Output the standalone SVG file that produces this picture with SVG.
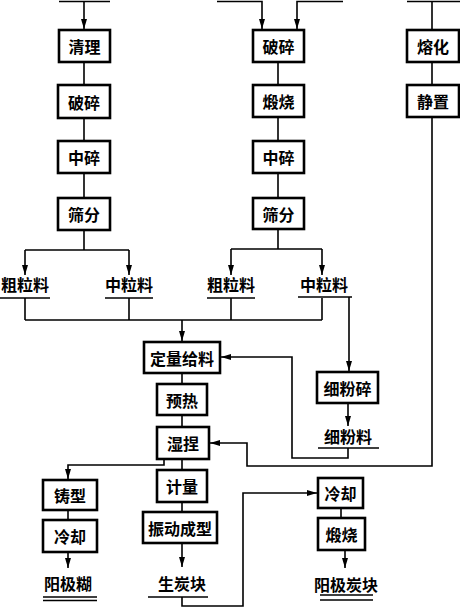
<svg xmlns="http://www.w3.org/2000/svg" width="460" height="608" viewBox="0 0 460 608">
<style>
.box{fill:#fff;stroke:#000;stroke-width:2.6}
.ln{fill:none;stroke:#000;stroke-width:1.6}
.ar{fill:none;stroke:#000;stroke-width:1.6;marker-end:url(#ah)}
text{font-family:"Noto Sans CJK SC","Noto Sans CJK JP",sans-serif;font-size:16px;font-weight:bold;fill:#000;text-anchor:middle;dominant-baseline:central}
</style>
<defs>
<marker id="ah" viewBox="0 0 10 6" refX="10" refY="3" markerWidth="10" markerHeight="6" markerUnits="userSpaceOnUse" orient="auto">
<path d="M0,0 L10,3 L0,6 z" fill="#000"/>
</marker>
</defs>
<rect width="460" height="608" fill="#fff"/>
<g id="connectors">
<path class="ln" d="M59,1.5 H110"/>
<path class="ar" d="M84,1.5 V29"/>
<path class="ln" d="M84,62 V85 M84,118 V141 M84,173 V198 M84,230 V250 M25,250 H129"/>
<path class="ar" d="M25,250 V275"/>
<path class="ar" d="M129,250 V275"/>
<path class="ar" d="M217,1.5 H262 V29"/>
<path class="ar" d="M343,1.5 H297 V29"/>
<path class="ln" d="M278,62 V85 M278,117 V141 M278,173 V198 M278,229 V249 M231,249 H322"/>
<path class="ar" d="M231,249 V275"/>
<path class="ar" d="M322,249 V275"/>
<path class="ln" d="M25,298 V320 M129,298 V320 M231,298 V320 M322,298 V320 M25,320 H322"/>
<path class="ar" d="M182,320 V341"/>
<path class="ln" d="M407,1.5 H460 M432,1.5 V30 M432,62 V85"/>
<path class="ar" d="M432,117 V466 H247 V443 H210"/>
<path class="ar" d="M349,297 V371"/>
<path class="ar" d="M348,403 V426"/>
<path class="ar" d="M348,448 V458 H292 V357 H221"/>
<path class="ln" d="M182,373 V384 M182,415 V427 M182,459 V470 M182,502 V512"/>
<path class="ar" d="M182,543 V567"/>
<path class="ar" d="M164,459 V465 H68 V479"/>
<path class="ln" d="M68,510 V520"/>
<path class="ar" d="M68,552 V568"/>
<path class="ar" d="M182,597 V606 H243 V493 H317"/>
<path class="ln" d="M341,508 V518"/>
<path class="ar" d="M345,550 V568"/>
<path class="ln" d="M0,298 H50 M105,298 H153 M207,298 H255 M298,297 H352 M318,448 H379 M148,597 H208 M43,597 H97 M43,600.5 H97 M320,595 H373 M320,600 H373"/>
</g>
<g id="n-qingli"><rect class="box" x="59" y="30" width="51" height="32"/><text x="84.5" y="46">清理</text></g>
<g id="n-posui1"><rect class="box" x="58" y="85" width="52" height="33"/><text x="84" y="101.5">破碎</text></g>
<g id="n-zhongsui1"><rect class="box" x="58" y="141" width="52" height="32"/><text x="84" y="157">中碎</text></g>
<g id="n-shaifen1"><rect class="box" x="58" y="198" width="52" height="32"/><text x="84" y="214">筛分</text></g>
<g id="n-posui2"><rect class="box" x="253" y="30" width="51" height="32"/><text x="278.5" y="46">破碎</text></g>
<g id="n-duanshao1"><rect class="box" x="253" y="85" width="51" height="32"/><text x="278.5" y="101">煅烧</text></g>
<g id="n-zhongsui2"><rect class="box" x="253" y="141" width="51" height="32"/><text x="278.5" y="157">中碎</text></g>
<g id="n-shaifen2"><rect class="box" x="253" y="198" width="51" height="31"/><text x="278.5" y="213.5">筛分</text></g>
<g id="n-ronghua"><rect class="box" x="407" y="30" width="52" height="32"/><text x="433" y="46">熔化</text></g>
<g id="n-jingzhi"><rect class="box" x="407" y="85" width="52" height="32"/><text x="433" y="101">静置</text></g>
<g id="t-culiliao1"><text x="25" y="284">粗粒料</text></g>
<g id="t-zhongliliao1"><text x="129" y="284">中粒料</text></g>
<g id="t-culiliao2"><text x="231" y="284">粗粒料</text></g>
<g id="t-zhongliliao2"><text x="324" y="284">中粒料</text></g>
<g id="n-dingliang"><rect class="box" x="144" y="342" width="76" height="31"/><text x="182" y="357.5">定量给料</text></g>
<g id="n-yure"><rect class="box" x="157" y="384" width="50" height="31"/><text x="182" y="399.5">预热</text></g>
<g id="n-shinie"><rect class="box" x="157" y="427" width="52" height="32"/><text x="183" y="443">湿捏</text></g>
<g id="n-xifensui"><rect class="box" x="317" y="372" width="61" height="31"/><text x="347.5" y="387.5">细粉碎</text></g>
<g id="t-xifenliao"><text x="348" y="436">细粉料</text></g>
<g id="n-jiliang"><rect class="box" x="157" y="470" width="50" height="32"/><text x="182" y="486">计量</text></g>
<g id="n-zhendong"><rect class="box" x="143" y="512" width="74" height="31"/><text x="180" y="527.5">振动成型</text></g>
<g id="n-zhuxing"><rect class="box" x="43" y="480" width="54" height="30"/><text x="70" y="495">铸型</text></g>
<g id="n-lengque1"><rect class="box" x="43" y="520" width="54" height="32"/><text x="70" y="536">冷却</text></g>
<g id="t-yangjihu"><text x="68" y="583">阳极糊</text></g>
<g id="t-shengtankuai"><text x="182" y="583">生炭块</text></g>
<g id="n-lengque2"><rect class="box" x="318" y="478" width="45" height="30"/><text x="340.5" y="493">冷却</text></g>
<g id="n-duanshao2"><rect class="box" x="318" y="518" width="47" height="32"/><text x="341.5" y="534">煅烧</text></g>
<g id="t-yangjitankuai"><text x="346" y="584">阳极炭块</text></g>
</svg>
